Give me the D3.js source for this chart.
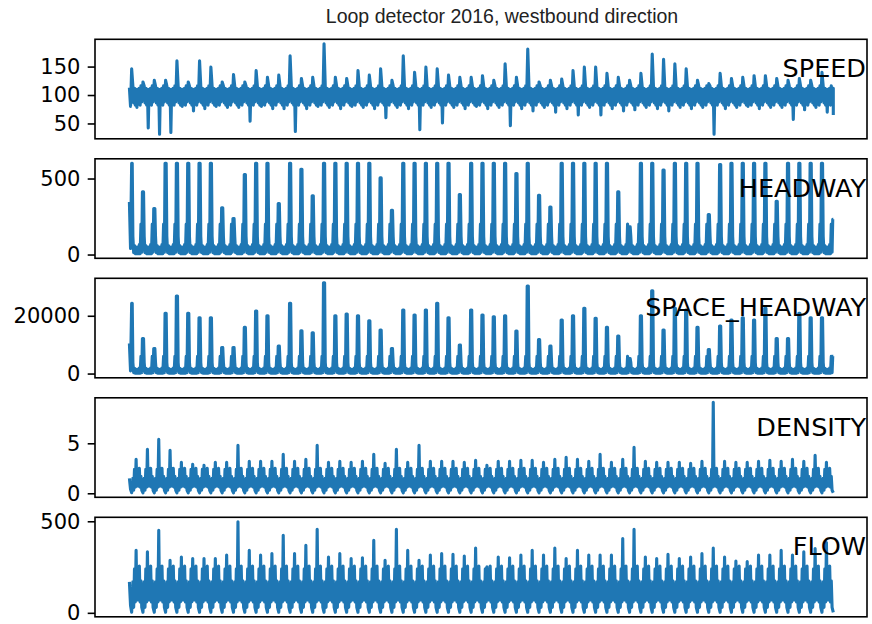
<!DOCTYPE html>
<html>
<head>
<meta charset="utf-8">
<script src="https://cdn.jsdelivr.net/npm/d3@7"></script>
<style>
  body { margin: 0; background: #fff; }
  svg { display: block; }
</style>
</head>
<body>
<svg id="chart" width="872" height="624"></svg>
<script>
// ---- data ----
// 63 nights (k = 0..62) and 62 days between them
const labels = ["SPEED", "HEADWAY", "SPACE_HEADWAY", "DENSITY", "FLOW"];

// night values (one per night)
const speedNightMax = [146,123,126,126,160,123,160,149,123,136,123,143,131,135,169,129,131,190,131,129,
  143,135,146,126,169,140,149,146,135,131,131,134,126,155,131,181,123,126,128,143,149,149,138,131,126,138,
  172,163,155,146,126,120,138,129,131,134,134,129,126,129,126,140,112];
const headwayPeak = [600,412,302,600,600,600,600,600,307,237,526,600,600,335,600,561,386,600,600,600,
  600,600,504,291,600,600,600,600,600,395,600,600,600,600,533,600,390,313,600,600,600,600,600,412,182,
  600,600,555,600,600,600,263,592,600,600,600,600,351,600,600,600,600,232];
const spaceHeadwayPeak = [24300,12150,8680,20830,26840,20830,19300,19300,9030,9030,15970,21630,20000,
  9480,24300,14790,14100,31400,20000,20590,20000,18260,15030,8680,21980,20240,21980,24300,19300,9830,
  21980,20240,19650,20000,14690,30310,11800,9480,18500,20000,22570,19100,15970,12950,5210,20000,28680,
  15030,22570,21980,15970,8330,16420,18500,19300,18500,22570,12150,12150,20830,19300,19300,6000];

// day values (one per day)
const speedDayMin = [78,42,31,34,80,72,76,80,78,78,54,80,76,76,36,76,80,78,76,80,78,76,60,78,76,39,78,
  51,78,76,80,76,78,46,76,72,78,70,76,65,78,65,76,72,74,78,76,72,78,76,78,31,76,78,80,76,78,78,57,74,78,70];
const densityDayPeak = [3.4,4.4,5.4,4.3,3.1,2.9,2.8,3.1,3.1,4.8,3.2,3.2,3.2,3.9,3.2,3.4,4.8,3.1,3.2,3.1,
  3.2,3.9,3.0,4.4,3.1,4.8,3.2,3.2,3.2,3.1,3.3,2.8,3.2,3.2,3.3,3.3,3.1,3.4,3.6,3.4,3.2,3.9,3.1,3.4,4.6,
  3.2,3.1,3.1,3.1,3.0,3.2,9.1,3.2,3.1,3.1,3.2,3.3,3.2,3.4,3.2,3.8,3.1];
const flowDayPeak = [342,333,451,287,305,297,297,297,315,497,342,315,324,424,324,369,456,305,324,297,
  300,396,287,456,342,287,315,324,320,310,354,251,305,300,315,342,315,354,297,342,315,315,315,406,456,
  305,297,320,297,305,324,354,305,283,280,315,315,342,315,333,351,384];

// typical band inside one day (6 readings after each night), upper and lower edge
const speedUpper = [116, 112, 110, 110, 112, 116];
const speedLower = [86, 82, 86, 84, 82, 88];
const headwayUpper = [120, 60, 50, 50, 65, 200];
const headwayLower = [12, 6, 5, 5, 6, 15];
const spaceUpper = [3800, 1800, 1500, 1500, 1900, 6000];
const spaceLower = [300, 150, 100, 100, 150, 300];
const densityUpper = [1.5, 2.4, 2.7, 2.3, 2.5, 1.7];
const densityLower = [0.3, 0.6, 0.7, 0.7, 0.6, 0.3];
const flowUpper = [170, 240, 270, 235, 255, 175];
const flowLower = [30, 60, 70, 70, 60, 30];

// first values of each series and the last one after the final night
const speedStart = [113, 80], speedTail = [65];
const headwayStart = [346, 40];
const spaceStart = [10400, 900];
const densityStart = [1.5, 0.4], densityNight = 0.05;
const flowStart = [169, 40], flowNight = 3;

const speedTicks = [50, 100, 150];
const headwayTicks = [0, 500];
const spaceTicks = [0, 20000];
const densityTicks = [0, 5];
const flowTicks = [0, 500];

// build one series: night point, then zigzag between upper and lower edges of the day
function build({start, night, upper, lower, dayPeak, dayMin, tail = [], wide = false}) {
  const pts = [];
  start.forEach((v, i) => pts.push([i * 0.1, v]));
  for (let k = 0; k < 63; k++) {
    const t0 = k + 0.2;
    const nv = Array.isArray(night) ? night[k] : night;
    if (wide && k > 0) pts.push([t0 - 0.05, nv]);
    pts.push([t0, nv]);
    if (k === 62) break;
    if (wide) pts.push([t0 + 0.05, nv]);
    for (let j = 0; j < 6; j++) {
      const t = t0 + (j + 1) / 7;
      const up = (dayPeak && j === 2) ? dayPeak[k] : upper[j];
      const lo = (dayMin && j === 2) ? dayMin[k] : lower[j];
      pts.push([t - 1 / 28, up]);
      pts.push([t + 1 / 28, lo]);
    }
  }
  tail.forEach(v => pts.push([62.2, v]));
  return pts;
}

const series = [
  { pts: build({start: speedStart, night: speedNightMax, upper: speedUpper, lower: speedLower, dayMin: speedDayMin, tail: speedTail}), ticks: speedTicks },
  { pts: build({start: headwayStart, night: headwayPeak, upper: headwayUpper, lower: headwayLower, wide: true}), ticks: headwayTicks },
  { pts: build({start: spaceStart, night: spaceHeadwayPeak, upper: spaceUpper, lower: spaceLower, wide: true}), ticks: spaceTicks },
  { pts: build({start: densityStart, night: densityNight, upper: densityUpper, lower: densityLower, dayPeak: densityDayPeak}), ticks: densityTicks },
  { pts: build({start: flowStart, night: flowNight, upper: flowUpper, lower: flowLower, dayPeak: flowDayPeak}), ticks: flowTicks }
];

// ---- layout ----
const svg = d3.select("#chart");
const left = 95, right = 867, panelH = 99.5, step = 119.5, firstTop = 39.3;

svg.append("text")
  .attr("x", 502).attr("y", 23)
  .attr("text-anchor", "middle")
  .attr("font-family", "'Liberation Sans', Arial, Helvetica, sans-serif")
  .attr("font-size", 19.5)
  .attr("fill", "#222")
  .text("Loop detector 2016, westbound direction");

const x = d3.scaleLinear().domain([0, 62.2]).range([129.4, 833.3]);

series.forEach((s, i) => {
  const top = firstTop + i * step;
  const [mn, mx] = d3.extent(s.pts, d => d[1]);
  const pad = (mx - mn) * 0.05;
  const y = d3.scaleLinear().domain([mn - pad, mx + pad]).range([top + panelH, top]);

  const g = svg.append("g");

  g.append("path")
    .datum(s.pts)
    .attr("fill", "none")
    .attr("stroke", "#1f77b4")
    .attr("stroke-width", 3.1)
    .attr("stroke-linejoin", "round")
    .attr("d", d3.line().x(d => x(d[0])).y(d => y(d[1])));

  const ax = g.append("g")
    .attr("transform", `translate(${left},0)`)
    .call(d3.axisLeft(y).tickValues(s.ticks).tickSize(7.3).tickPadding(7.3).tickFormat(d3.format("d")));
  ax.select(".domain").remove();
  ax.selectAll(".tick line").attr("stroke", "#000").attr("stroke-width", 1.6);
  ax.selectAll(".tick text")
    .attr("font-family", "'DejaVu Sans', sans-serif")
    .attr("font-size", 21)
    .attr("fill", "#000");

  g.append("rect")
    .attr("x", left).attr("y", top)
    .attr("width", right - left).attr("height", panelH)
    .attr("fill", "none")
    .attr("stroke", "#000")
    .attr("stroke-width", 1.6);

  g.append("text")
    .attr("x", 866).attr("y", top + 38)
    .attr("text-anchor", "end")
    .attr("font-family", "'DejaVu Sans', sans-serif")
    .attr("font-size", 25.5)
    .attr("fill", "#000")
    .text(labels[i]);
});
</script>
</body>
</html>
